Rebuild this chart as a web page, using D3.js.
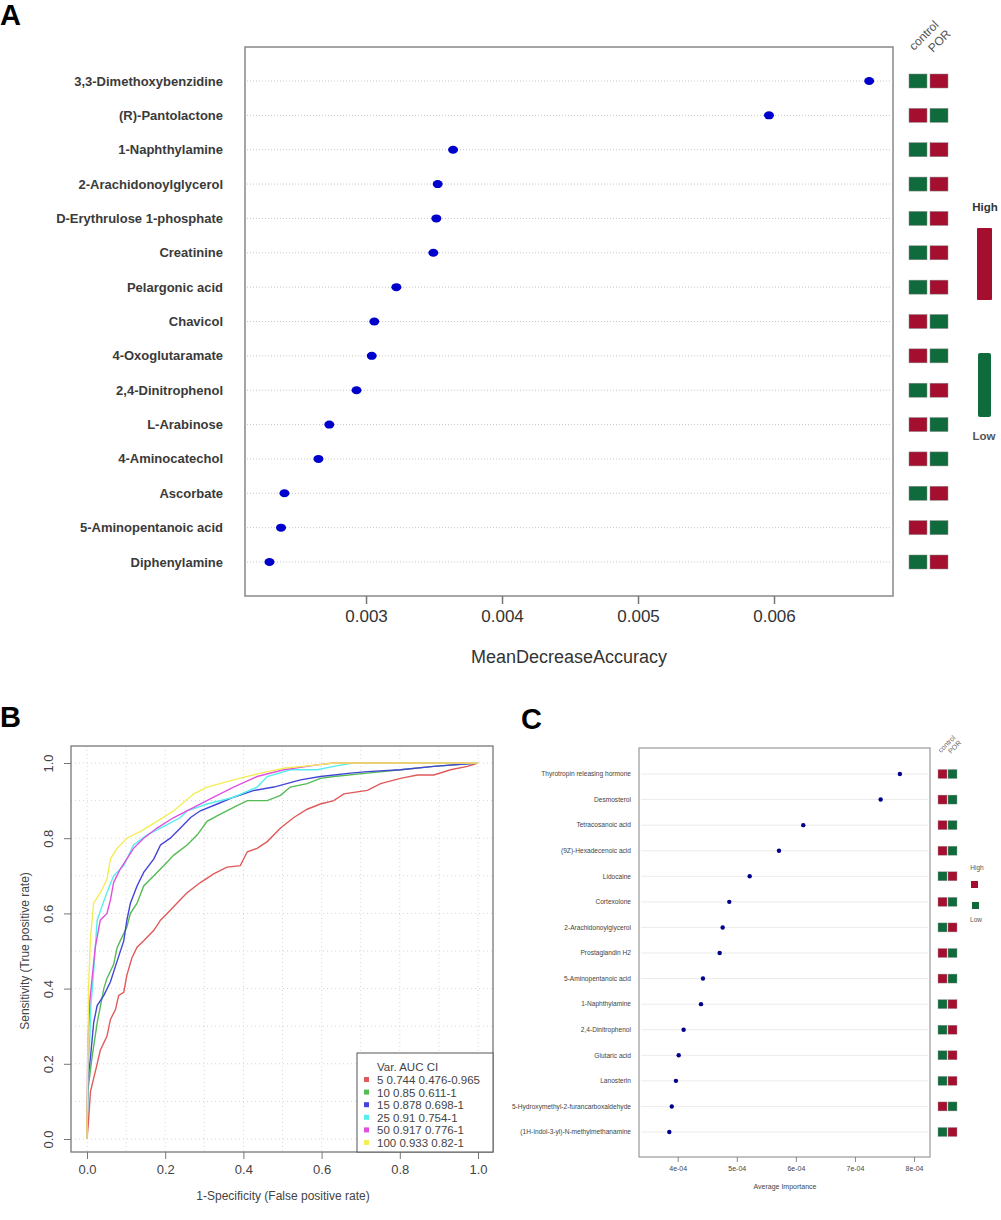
<!DOCTYPE html>
<html>
<head>
<meta charset="utf-8">
<script src="https://cdn.jsdelivr.net/npm/d3@7"></script>
<style>
  body { margin: 0; background: #fff; }
  svg { font-family: "Liberation Sans", Arial, sans-serif; }
</style>
</head>
<body>
<div id="chart"></div>
<script>
// ---- data ----

// panel A: random forest importance
var aNames = ["3,3-Dimethoxybenzidine", "(R)-Pantolactone", "1-Naphthylamine", "2-Arachidonoylglycerol",
  "D-Erythrulose 1-phosphate", "Creatinine", "Pelargonic acid", "Chavicol", "4-Oxoglutaramate",
  "2,4-Dinitrophenol", "L-Arabinose", "4-Aminocatechol", "Ascorbate", "5-Aminopentanoic acid", "Diphenylamine"];
var aValues = [0.00670, 0.005963, 0.00364, 0.003527, 0.003517, 0.003495, 0.003223, 0.003061, 0.003042,
  0.00293, 0.00273, 0.00265, 0.00240, 0.002375, 0.00229];
var aControl = ["L", "H", "L", "L", "L", "L", "L", "H", "H", "L", "H", "H", "L", "H", "L"];
var aTicks = [0.003, 0.004, 0.005, 0.006];

// panel B: ROC curves, [fpr, tpr] pairs
var bLegend = ["5 0.744 0.476-0.965", "10 0.85 0.611-1", "15 0.878 0.698-1",
  "25 0.91 0.754-1", "50 0.917 0.776-1", "100 0.933 0.82-1"];
var roc5 = [[0,0],[0.003,0.036],[0.009,0.127],[0.026,0.2],[0.034,0.236],[0.051,0.273],[0.06,0.318],
  [0.073,0.345],[0.081,0.382],[0.094,0.39],[0.102,0.436],[0.115,0.482],[0.128,0.51],[0.145,0.527],
  [0.171,0.555],[0.188,0.582],[0.205,0.6],[0.23,0.627],[0.256,0.655],[0.29,0.682],[0.324,0.705],
  [0.358,0.723],[0.392,0.727],[0.41,0.764],[0.435,0.773],[0.461,0.791],[0.495,0.827],[0.529,0.855],
  [0.563,0.877],[0.597,0.891],[0.631,0.9],[0.657,0.918],[0.717,0.927],[0.751,0.945],[0.802,0.959],
  [0.845,0.968],[0.887,0.968],[0.93,0.982],[0.973,0.991],[1,1]];
var roc10 = [[0,0],[0.002,0.127],[0.013,0.218],[0.026,0.309],[0.043,0.4],[0.051,0.427],[0.068,0.464],
  [0.077,0.509],[0.085,0.527],[0.102,0.564],[0.111,0.6],[0.128,0.627],[0.145,0.673],[0.171,0.7],
  [0.196,0.727],[0.222,0.755],[0.256,0.782],[0.282,0.809],[0.307,0.845],[0.341,0.864],[0.375,0.882],
  [0.41,0.9],[0.461,0.9],[0.495,0.914],[0.52,0.936],[0.563,0.945],[0.597,0.959],[0.631,0.964],
  [0.717,0.973],[0.802,0.982],[0.887,0.991],[1,1]];
var roc15 = [[0,0],[0.002,0.155],[0.009,0.218],[0.017,0.309],[0.026,0.355],[0.043,0.382],[0.06,0.418],
  [0.077,0.473],[0.094,0.527],[0.102,0.582],[0.111,0.627],[0.128,0.673],[0.145,0.709],[0.171,0.745],
  [0.188,0.782],[0.213,0.8],[0.239,0.827],[0.265,0.855],[0.29,0.873],[0.333,0.891],[0.375,0.909],
  [0.427,0.927],[0.478,0.936],[0.546,0.955],[0.597,0.964],[0.674,0.973],[0.717,0.977],[0.802,0.982],
  [0.887,0.991],[1,1]];
var roc25 = [[0,0],[0.002,0.173],[0.007,0.264],[0.01,0.355],[0.017,0.445],[0.026,0.582],[0.038,0.618],
  [0.051,0.655],[0.068,0.7],[0.094,0.727],[0.119,0.782],[0.154,0.809],[0.205,0.836],[0.239,0.855],
  [0.256,0.873],[0.307,0.891],[0.375,0.909],[0.435,0.936],[0.461,0.964],[0.52,0.982],[0.589,0.982],
  [0.631,0.991],[0.68,1],[1,1]];
var roc50 = [[0,0],[0.002,0.255],[0.007,0.364],[0.013,0.427],[0.021,0.509],[0.034,0.582],[0.051,0.6],
  [0.06,0.636],[0.068,0.682],[0.085,0.718],[0.102,0.745],[0.119,0.773],[0.145,0.8],[0.179,0.827],
  [0.222,0.855],[0.273,0.882],[0.324,0.909],[0.375,0.936],[0.435,0.964],[0.503,0.982],[0.589,0.995],
  [0.631,1],[1,1]];
var roc100 = [[0,0],[0,0.036],[0.002,0.218],[0.004,0.4],[0.009,0.536],[0.017,0.627],[0.034,0.655],
  [0.051,0.691],[0.06,0.745],[0.077,0.773],[0.102,0.8],[0.137,0.818],[0.179,0.845],[0.222,0.873],
  [0.273,0.918],[0.307,0.936],[0.375,0.955],[0.444,0.973],[0.503,0.986],[0.589,0.995],[0.631,1],[1,1]];
var bTicks = [0, 0.2, 0.4, 0.6, 0.8, 1.0];

// panel C: average importance
var cNames = ["Thyrotropin releasing hormone", "Desmosterol", "Tetracosanoic acid", "(9Z)-Hexadecenoic acid",
  "Lidocaine", "Cortexolone", "2-Arachidonoylglycerol", "Prostaglandin H2", "5-Aminopentanoic acid",
  "1-Naphthylamine", "2,4-Dinitrophenol", "Glutaric acid", "Lanosterin",
  "5-Hydroxymethyl-2-furancarboxaldehyde", "(1H-Indol-3-yl)-N-methylmethanamine"];
var cValues = [7.76e-4, 7.435e-4, 6.125e-4, 5.714e-4, 5.218e-4, 4.873e-4, 4.761e-4, 4.71e-4, 4.428e-4,
  4.394e-4, 4.10e-4, 4.017e-4, 3.97e-4, 3.90e-4, 3.858e-4];
var cControl = ["H", "H", "H", "H", "L", "H", "L", "H", "H", "L", "L", "L", "L", "H", "L"];
var cTicks = [4e-4, 5e-4, 6e-4, 7e-4, 8e-4];
var cTickLabels = ["4e-04", "5e-04", "6e-04", "7e-04", "8e-04"];

// ---- setup ----
var svgWidth = 1001;
var svgHeight = 1220;
var HIGH = "#a50f2f", LOW = "#0f6b3b";
function flip(v) { return v == "H" ? "L" : "H"; }
function fillOf(v) { return v == "H" ? HIGH : LOW; }

var svg = d3.select("#chart")
    .append("svg")
    .attr("width", svgWidth)
    .attr("height", svgHeight);

// panel letters
[["A", 0, 25], ["B", 0, 727], ["C", 521, 729]].forEach(function (p) {
    svg.append("text").text(p[0]).attr("x", p[1]).attr("y", p[2])
        .attr("font-size", "29px").attr("font-weight", "bold").attr("fill", "#000");
});

// ================= panel A =================
var aBox = {left: 245, right: 893, top: 47, bottom: 596};
var ax = d3.scaleLinear().domain([0.00211, 0.006875]).range([aBox.left, aBox.right]);
var ay = d3.scalePoint().domain(aNames).range([81, 562]);
var gA = svg.append("g");

gA.selectAll("line.grid").data(aNames).enter().append("line")
    .attr("x1", aBox.left + 2).attr("x2", aBox.right - 2)
    .attr("y1", d => ay(d)).attr("y2", d => ay(d))
    .attr("stroke", "#c8c8c8").attr("stroke-width", 1).attr("stroke-dasharray", "1,2");

gA.append("rect")
    .attr("x", aBox.left).attr("y", aBox.top)
    .attr("width", aBox.right - aBox.left).attr("height", aBox.bottom - aBox.top)
    .attr("fill", "none").attr("stroke", "#888").attr("stroke-width", 1.5);

gA.selectAll("ellipse").data(aNames).enter().append("ellipse")
    .attr("cx", (d, i) => ax(aValues[i]))
    .attr("cy", d => ay(d))
    .attr("rx", 5).attr("ry", 4)
    .attr("fill", "#0000cc");

gA.selectAll("text.lab").data(aNames).enter().append("text")
    .attr("x", 223).attr("y", d => ay(d) + 4.5)
    .attr("text-anchor", "end")
    .attr("font-size", "13px").attr("font-weight", "bold").attr("fill", "#3a3a3a")
    .text(d => d);

var axA = gA.append("g")
    .attr("transform", `translate(0, ${aBox.bottom})`)
    .call(d3.axisBottom(ax).tickValues(aTicks).tickFormat(d3.format(".3f")).tickSize(8).tickPadding(6));
axA.select(".domain").remove();
axA.selectAll("line").attr("stroke", "#777").attr("stroke-width", 1.5);
axA.selectAll("text").attr("font-size", "17px").attr("fill", "#333").attr("font-family", "Liberation Sans, Arial");

gA.append("text").attr("x", 569).attr("y", 663).attr("text-anchor", "middle")
    .attr("font-size", "18px").attr("fill", "#333").text("MeanDecreaseAccuracy");

// heatmap columns
[0, 1].forEach(function (k) {
    gA.selectAll("rect.c" + k).data(aNames).enter().append("rect")
        .attr("x", 909 + k * 21).attr("y", d => ay(d) - 7)
        .attr("width", 18).attr("height", 14)
        .attr("fill", (d, i) => fillOf(k == 0 ? aControl[i] : flip(aControl[i])))
        .attr("stroke", "#888").attr("stroke-width", 0.5);
});
gA.append("text").attr("transform", "translate(914,51) rotate(-45)")
    .attr("font-size", "12px").attr("fill", "#555").text("control");
gA.append("text").attr("transform", "translate(933,53) rotate(-45)")
    .attr("font-size", "12px").attr("fill", "#555").text("POR");

gA.append("text").attr("x", 985).attr("y", 211).attr("text-anchor", "middle")
    .attr("font-size", "11.5px").attr("font-weight", "bold").attr("fill", "#333").text("High");
gA.append("rect").attr("x", 977).attr("y", 228).attr("width", 15).attr("height", 72)
    .attr("fill", HIGH).attr("rx", 1);
gA.append("rect").attr("x", 978).attr("y", 353).attr("width", 13).attr("height", 64)
    .attr("fill", LOW).attr("rx", 2);
gA.append("text").attr("x", 984).attr("y", 440).attr("text-anchor", "middle")
    .attr("font-size", "11.5px").attr("font-weight", "bold").attr("fill", "#555").text("Low");

// ================= panel B =================
var bBox = {left: 71, right: 493, top: 746, bottom: 1152};
var bx = d3.scaleLinear().domain([0, 1]).range([87, 478]);
var by = d3.scaleLinear().domain([0, 1]).range([1139, 763]);
var gB = svg.append("g");
var gridVals = d3.range(0, 11).map(d => d / 10);

gB.selectAll("line.vg").data(gridVals).enter().append("line")
    .attr("x1", d => bx(d)).attr("x2", d => bx(d))
    .attr("y1", bBox.top).attr("y2", bBox.bottom)
    .attr("stroke", "#d6d6d6").attr("stroke-dasharray", "1,3");
gB.selectAll("line.hg").data(gridVals).enter().append("line")
    .attr("x1", bBox.left).attr("x2", bBox.right)
    .attr("y1", d => by(d)).attr("y2", d => by(d))
    .attr("stroke", "#d6d6d6").attr("stroke-dasharray", "1,3");

var rocs = [roc5, roc10, roc15, roc25, roc50, roc100];
var rocColors = ["#e05a5a", "#55bb55", "#4444d8", "#55eeee", "#e050e0", "#f4ee55"];
var line = d3.line().x(d => bx(d[0])).y(d => by(d[1]));
rocs.forEach(function (r, i) {
    gB.append("path").datum(r).attr("d", line)
        .attr("fill", "none").attr("stroke", rocColors[i]).attr("stroke-width", 1.4);
});

gB.append("rect")
    .attr("x", bBox.left).attr("y", bBox.top)
    .attr("width", bBox.right - bBox.left).attr("height", bBox.bottom - bBox.top)
    .attr("fill", "none").attr("stroke", "#777").attr("stroke-width", 1.3);

var bxAxis = gB.append("g").attr("transform", `translate(0, ${bBox.bottom})`)
    .call(d3.axisBottom(bx).tickValues(bTicks).tickFormat(d3.format(".1f")).tickSize(7).tickPadding(6));
bxAxis.select(".domain").remove();
bxAxis.selectAll("line").attr("stroke", "#777");
bxAxis.selectAll("text").attr("font-size", "13px").attr("fill", "#444").attr("font-family", "Liberation Sans, Arial");

var byAxis = gB.append("g").attr("transform", `translate(${bBox.left}, 0)`)
    .call(d3.axisLeft(by).tickValues(bTicks).tickFormat(d3.format(".1f")).tickSize(7));
byAxis.select(".domain").remove();
byAxis.selectAll("line").attr("stroke", "#777");
byAxis.selectAll("text")
    .attr("font-size", "13px").attr("fill", "#444").attr("font-family", "Liberation Sans, Arial")
    .attr("text-anchor", "middle").attr("x", 0).attr("dy", 0)
    .attr("transform", "translate(-18,0) rotate(-90)");

gB.append("text").attr("transform", "translate(29,951) rotate(-90)")
    .attr("text-anchor", "middle").attr("font-size", "12px").attr("fill", "#444")
    .text("Sensitivity (True positive rate)");
gB.append("text").attr("x", 283).attr("y", 1200).attr("text-anchor", "middle")
    .attr("font-size", "12px").attr("fill", "#444").text("1-Specificity (False positive rate)");

// legend
gB.append("rect").attr("x", 357).attr("y", 1053).attr("width", bBox.right - 357).attr("height", bBox.bottom - 1053)
    .attr("fill", "#fff").attr("stroke", "#555").attr("stroke-width", 1);
gB.append("text").attr("x", 377).attr("y", 1071).attr("font-size", "11.5px").attr("fill", "#444").text("Var. AUC CI");
bLegend.forEach(function (t, i) {
    var yy = 1084 + i * 12.6;
    gB.append("rect").attr("x", 364).attr("y", yy - 7).attr("width", 5).attr("height", 5).attr("fill", rocColors[i]);
    gB.append("text").attr("x", 377).attr("y", yy).attr("font-size", "11.5px").attr("fill", "#444").text(t);
});

// ================= panel C =================
var cBox = {left: 639, right: 930, top: 748, bottom: 1157};
var cx = d3.scaleLinear().domain([3.345e-4, 8.27e-4]).range([cBox.left, cBox.right]);
var cy = d3.scalePoint().domain(cNames).range([774, 1132]);
var gC = svg.append("g");

gC.selectAll("line.grid").data(cNames).enter().append("line")
    .attr("x1", cBox.left + 2).attr("x2", cBox.right - 2)
    .attr("y1", d => cy(d)).attr("y2", d => cy(d))
    .attr("stroke", "#e6e6e6").attr("stroke-width", 0.8);

gC.append("rect")
    .attr("x", cBox.left).attr("y", cBox.top)
    .attr("width", cBox.right - cBox.left).attr("height", cBox.bottom - cBox.top)
    .attr("fill", "none").attr("stroke", "#999").attr("stroke-width", 1.2);

gC.selectAll("circle").data(cNames).enter().append("circle")
    .attr("cx", (d, i) => cx(cValues[i]))
    .attr("cy", d => cy(d))
    .attr("r", 2.2)
    .attr("fill", "#00008b");

gC.selectAll("text.lab").data(cNames).enter().append("text")
    .attr("x", 631).attr("y", d => cy(d) + 2.3)
    .attr("text-anchor", "end")
    .attr("font-size", "6.6px").attr("fill", "#444")
    .text(d => d);

var axC = gC.append("g").attr("transform", `translate(0, ${cBox.bottom})`)
    .call(d3.axisBottom(cx).tickValues(cTicks).tickFormat((d, i) => cTickLabels[i]).tickSize(5).tickPadding(4));
axC.select(".domain").remove();
axC.selectAll("line").attr("stroke", "#888");
axC.selectAll("text").attr("font-size", "7px").attr("fill", "#444").attr("font-family", "Liberation Sans, Arial");

gC.append("text").attr("x", 785).attr("y", 1189).attr("text-anchor", "middle")
    .attr("font-size", "7px").attr("fill", "#444").text("Average Importance");

[0, 1].forEach(function (k) {
    gC.selectAll("rect.c" + k).data(cNames).enter().append("rect")
        .attr("x", 938 + k * 10).attr("y", d => cy(d) - 4.5)
        .attr("width", 9).attr("height", 9)
        .attr("fill", (d, i) => fillOf(k == 0 ? cControl[i] : flip(cControl[i])))
        .attr("stroke", "#999").attr("stroke-width", 0.4);
});
gC.append("text").attr("transform", "translate(941,753) rotate(-45)")
    .attr("font-size", "7px").attr("fill", "#666").text("control");
gC.append("text").attr("transform", "translate(951,754) rotate(-45)")
    .attr("font-size", "7px").attr("fill", "#666").text("POR");

gC.append("text").attr("x", 977).attr("y", 870).attr("text-anchor", "middle")
    .attr("font-size", "6.5px").attr("fill", "#555").text("High");
gC.append("rect").attr("x", 971).attr("y", 881).attr("width", 7).attr("height", 7).attr("fill", HIGH);
gC.append("rect").attr("x", 972).attr("y", 902).attr("width", 7).attr("height", 7).attr("fill", LOW);
gC.append("text").attr("x", 976).attr("y", 922).attr("text-anchor", "middle")
    .attr("font-size", "6.5px").attr("fill", "#555").text("Low");
</script>
</body>
</html>
